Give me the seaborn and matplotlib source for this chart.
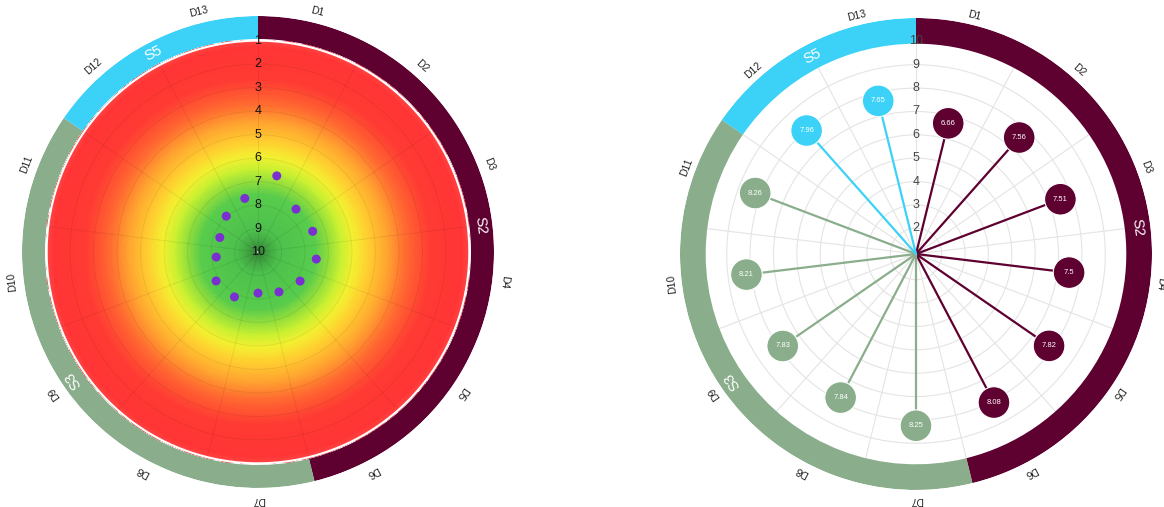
import numpy as np
import pandas as pd
import seaborn as sns
import matplotlib.pyplot as plt
from matplotlib.colors import LinearSegmentedColormap

# ---- data ----
categories = ["D1", "D2", "D3", "D4", "D5", "D6", "D7",
              "D8", "D9", "D10", "D11", "D12", "D13"]
values = [6.66, 7.56, 7.51, 7.5, 7.82, 8.08, 8.25,
          7.84, 7.83, 8.21, 8.26, 7.96, 7.65]
groups = ["S2", "S2", "S2", "S2", "S2", "S2", "S3",
          "S3", "S3", "S3", "S3", "S5", "S5"]
group_names = ["S2", "S3", "S5"]
group_colors = {"S2": "#5e0030", "S3": "#8aae8c", "S5": "#3cd2f8"}
radial_ticks = [1, 2, 3, 4, 5, 6, 7, 8, 9, 10]

n = len(categories)
step = 2 * np.pi / n
df = pd.DataFrame({"cat": categories, "value": values, "group": groups})
df["theta"] = (np.arange(n) + 0.5) * step

sns.set_style("white")
plt.rcParams["font.family"] = ["Liberation Sans", "DejaVu Sans"]

fig = plt.figure(figsize=(11.64, 5.07), dpi=100)
W, H = 1164, 507
R = 236


def make_ax(cx, cy):
    ax = fig.add_axes([(cx - R) / W, (H - cy - R) / H, 2 * R / W, 2 * R / H],
                      projection="polar")
    ax.set_theta_zero_location("N")
    ax.set_theta_direction(-1)
    ax.spines["polar"].set_visible(False)
    ax.set_xticks(np.arange(n) * step)
    ax.set_xticklabels([])
    ax.set_yticklabels([])
    return ax


def draw_ring(ax, r_in, r_out, lab_r, grp_r):
    # one bar per group so there are no seams between categories
    for g in group_names:
        sub = df[df["group"] == g]
        mid = sub["theta"].mean()
        ax.bar(mid, r_out - r_in, width=len(sub) * step, bottom=r_in,
               color=group_colors[g], linewidth=0, zorder=3)
        ax.text(mid, grp_r, g, color="white", fontsize=10.5,
                rotation=-np.degrees(mid), ha="center", va="center",
                rotation_mode="anchor", zorder=5)
    for th, c in zip(df["theta"], df["cat"]):
        ax.text(th, lab_r, c, fontsize=7.5, color="#222222",
                rotation=-np.degrees(th), ha="center", va="center",
                rotation_mode="anchor", clip_on=False)


# ---- left: gradient target chart (inverted radial axis) ----
axl = make_ax(258, 252)
axl.set_ylim(10, -0.05)
grad = LinearSegmentedColormap.from_list("grad", [
    (0.00, "#ff4545"), (0.03, "#ff3535"), (0.18, "#ff3a33"),
    (0.30, "#ff6a30"), (0.38, "#ffa030"), (0.48, "#ffd030"),
    (0.55, "#f2f030"), (0.61, "#c6f032"), (0.67, "#8edc3c"),
    (0.73, "#58cc4c"), (0.90, "#4cc04c"), (0.96, "#3f9f40"),
    (1.00, "#357f38")])
th_grid = np.linspace(0, 2 * np.pi, 181)
r_grid = np.linspace(1, 10, 120)
TT, RR = np.meshgrid(th_grid, r_grid)
axl.pcolormesh(TT, RR, RR, cmap=grad, vmin=1, vmax=10,
               shading="auto", zorder=0)
axl.set_yticks(radial_ticks)
axl.grid(True, color="#000000", alpha=0.07, linewidth=0.7)
axl.plot(np.linspace(0, 2 * np.pi, 361), np.full(361, 1.0),
         color="white", linewidth=1.5, zorder=4)
sns.scatterplot(data=df, x="theta", y="value", ax=axl, color="#7a2fd0",
                s=42, edgecolor="none", zorder=6, legend=False)
for t in radial_ticks:
    axl.text(0, t, str(t), ha="center", va="center", fontsize=9,
             color="#111111", zorder=5)
draw_ring(axl, 0.93, -0.05, -0.55, 0.44)
axl.set_xlabel("")
axl.set_ylabel("")

# ---- right: lollipop chart ----
axr = make_ax(916, 254)
axr.set_ylim(0.9, 11.0)
axr.set_yticks(radial_ticks)
axr.grid(True, color="#e4e4e4", linewidth=0.8)
for _, row in df.iterrows():
    col = group_colors[row["group"]]
    axr.plot([row["theta"], row["theta"]], [0.9, row["value"]],
             color=col, linewidth=1.6, zorder=3)
sns.scatterplot(data=df, x="theta", y="value", hue="group",
                palette=group_colors, ax=axr, s=520, edgecolor="white",
                linewidth=0.8, zorder=4, legend=False)
for _, row in df.iterrows():
    axr.text(row["theta"], row["value"], f"{row['value']:g}", color="white",
             fontsize=5.5, ha="center", va="center", zorder=5)
for t in radial_ticks[1:]:
    axr.text(0, t, str(t), ha="center", va="center", fontsize=9,
             color="#444444", zorder=6)
draw_ring(axr, 9.9, 11.0, 11.42, 10.45)
axr.set_xlabel("")
axr.set_ylabel("")

fig.savefig("out.png", dpi=100)
